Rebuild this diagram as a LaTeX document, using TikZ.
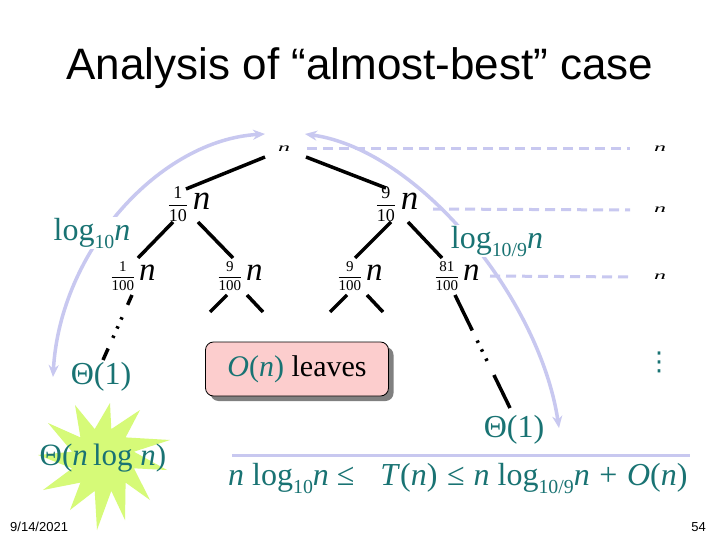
\documentclass[tikz,border=0pt]{standalone}
\usepackage{fontspec}
\setmainfont{Liberation Serif}
\newfontfamily\titlefont{Liberation Sans}
\newfontfamily\djv{DejaVu Sans}
\usepackage{graphicx}
\usetikzlibrary{arrows.meta,calc,shadows}
\definecolor{tealc}{RGB}{25,115,115}
\definecolor{lav}{RGB}{200,200,240}
\definecolor{pinkc}{RGB}{252,205,205}
\definecolor{limec}{RGB}{214,250,120}
\newcommand\fr[2]{$\displaystyle\frac{\mbox{#1}}{\mbox{#2}}$}
\newcommand\lsub[1]{\raisebox{-0.25em}{\scalebox{0.62}{#1}}}
\newcommand\itn{\textit{n}}
\begin{document}
\begin{tikzpicture}[x=1pt,y=-1pt,
  edge/.style={line width=3.5pt},
  arcln/.style={draw=lav, line width=3.5pt, {Stealth[length=12pt,width=10pt]}-{Stealth[length=12pt,width=10pt]}},
  dashln/.style={draw=lav, line width=3pt, dash pattern=on 10pt off 6pt},
  lbl/.style={text=tealc, font=\fontsize{32}{34}\selectfont, inner sep=1pt},
  tn/.style={inner sep=0pt},
  smalln/.style={inner sep=0pt}
]
\useasboundingbox (0,0) rectangle (720,540);
\fill[white] (0,0) rectangle (720,540);

% title
\node[font=\titlefont\fontsize{44}{46}\selectfont] (title) at (360,68) {Analysis of “almost-best” case};

% tree nodes
\node[tn] (root) at (284,149) {\scalebox{1}[0.5]{\fontsize{24}{24}\selectfont\itn}};
\node[tn] (a) at (189,204) {\fontsize{18}{18}\selectfont\fr{1}{10}\hspace{5pt}\fontsize{35}{35}\selectfont\itn};
\node[tn] (b) at (397,204) {\fontsize{18}{18}\selectfont\fr{9}{10}\hspace{5pt}\fontsize{35}{35}\selectfont\itn};
\node[tn] (c1) at (133,276) {\fontsize{15}{15}\selectfont\fr{1}{100}\hspace{4pt}\fontsize{33}{33}\selectfont\itn};
\node[tn] (c2) at (240,276) {\fontsize{15}{15}\selectfont\fr{9}{100}\hspace{4pt}\fontsize{33}{33}\selectfont\itn};
\node[tn] (c3) at (360,276) {\fontsize{15}{15}\selectfont\fr{9}{100}\hspace{4pt}\fontsize{33}{33}\selectfont\itn};
\node[tn] (c4) at (457,276) {\fontsize{15}{15}\selectfont\fr{81}{100}\hspace{4pt}\fontsize{33}{33}\selectfont\itn};
\node[lbl] (leafL) at (101,377) {Θ(1)};
\node[lbl] (leafR) at (514,430) {Θ(1)};

% right column
\node[smalln] (rn1) at (660,149) {\scalebox{1}[0.5]{\fontsize{24}{24}\selectfont\itn}};
\node[smalln] (rn2) at (660,210) {\scalebox{1}[0.5]{\fontsize{24}{24}\selectfont\itn}};
\node[smalln] (rn3) at (660,277) {\scalebox{1}[0.5]{\fontsize{24}{24}\selectfont\itn}};
\node[text=tealc, font=\djv\fontsize{26}{26}\selectfont, inner sep=0pt] (vd) at (659,362) {⋮};

% dashed level lines
\draw[dashln] ([xshift=23pt]root.center) -- ([xshift=-30pt]rn1.center);
\draw[dashln] ([shift={(36,5)}]b.center) -- ([xshift=-30pt]rn2.center);
\draw[dashln] ([shift={(33,0)}]c4.center) -- ([xshift=-30pt]rn3.center);

% arcs
\draw[arcln] ([shift={(-19,-15)}]root.center) .. controls (160,140) and (60,250) .. ([shift={(-48,0)}]leafL.center);
\draw[arcln] ([shift={(21,-15)}]root.center) .. controls (420,150) and (540,300) .. ([shift={(45,-2)}]leafR.center);

% arc labels
\node[lbl, fill=white] (lg1) at (92,233) {log\lsub{10}\itn};
\node[lbl, fill=white] (lg2) at (497,241) {log\lsub{10/9}\itn};

% tree edges
\draw[edge] ([shift={(-19,8)}]root.center) -- ([shift={(-3,-15)}]a.center);
\draw[edge] ([shift={(22,8)}]root.center) -- ([shift={(-11,-16)}]b.center);
\draw[edge] ([shift={(-16,18)}]a.center) -- ([shift={(5,-18)}]c1.center);
\draw[edge] ([shift={(9,18)}]a.center) -- ([shift={(-7,-18)}]c2.center);
\draw[edge] ([shift={(-6,18)}]b.center) -- ([shift={(-5,-18)}]c3.center);
\draw[edge] ([shift={(11,18)}]b.center) -- ([shift={(-15,-18)}]c4.center);
\coordinate (c2l) at (210,312);
\coordinate (c2r) at (263,312);
\coordinate (c3l) at (330,312);
\coordinate (c3r) at (383,312);
\draw[edge] ([shift={(-13,19)}]c2.center) -- (c2l);
\draw[edge] ([shift={(7,19)}]c2.center) -- (c2r);
\draw[edge] ([shift={(-13,19)}]c3.center) -- (c3l);
\draw[edge] ([shift={(7,19)}]c3.center) -- (c3r);
\draw[edge, dash pattern=on 10.8pt off 13.55pt on 2.5pt off 7.4pt on 2.5pt off 7.7pt on 2.5pt off 11.65pt on 40pt]
  ([shift={(-1,19)}]c1.center) -- ([shift={(2,-17)}]leafL.center);
\draw[edge, dash pattern=on 39.4pt off 11.25pt on 2.5pt off 7.3pt on 2.5pt off 7.8pt on 2.5pt off 15.75pt on 60pt]
  ([shift={(-2,19)}]c4.center) -- ([shift={(-4,-22)}]leafR.center);

% leaves box
\node[fill=pinkc, draw=black, line width=0.8pt, rounded corners=8pt, minimum width=183pt, minimum height=54pt,
  general shadow={fill=gray, shadow xshift=5pt, shadow yshift=-5pt},
  font=\fontsize{30}{32}\selectfont] (leaves) at (297,369) {\textcolor{tealc}{\textit{O}(\itn)} leaves};

% starburst
\fill[limec] (110,403) -- (111.3,429.1) -- (140,410) -- (125.6,437.4) -- (170,440) -- (133.9,451.7)
  -- (167,470) -- (133.9,468.3) -- (150,500) -- (125.6,482.6) -- (125,520) -- (111.3,490.9)
  -- (97,530) -- (94.7,490.9) -- (70,510) -- (80.4,482.6) -- (43,490) -- (72.1,468.3)
  -- (38,455) -- (72.1,451.7) -- (48,423) -- (80.4,437.4) -- (75,405) -- (94.7,429.1) -- cycle;
\node[lbl, font=\fontsize{31}{33}\selectfont] (total) at (103,458) {Θ(\itn\,log \itn)};

% bound
\draw[draw=lav, line width=3pt] (232,455) -- (690,455);
\node[lbl, anchor=west, font=\fontsize{32}{34}\selectfont] (formula) at (227,478)
  {\itn\ log\lsub{10}\itn\ ≤\hspace{26pt}\textit{T}(\itn)\hspace{0.3em}≤\hspace{0.28em}\itn\ log\lsub{10/9}\itn\hspace{0.3em}+\hspace{0.3em}\textit{O}(\itn)};

% footer
\node[anchor=west, font=\titlefont\fontsize{13}{13}\selectfont, inner sep=0pt] (date) at (10,527) {9/14/2021};
\node[anchor=east, font=\titlefont\fontsize{13}{13}\selectfont, inner sep=0pt] (page) at (706,527) {54};
\end{tikzpicture}
\end{document}
